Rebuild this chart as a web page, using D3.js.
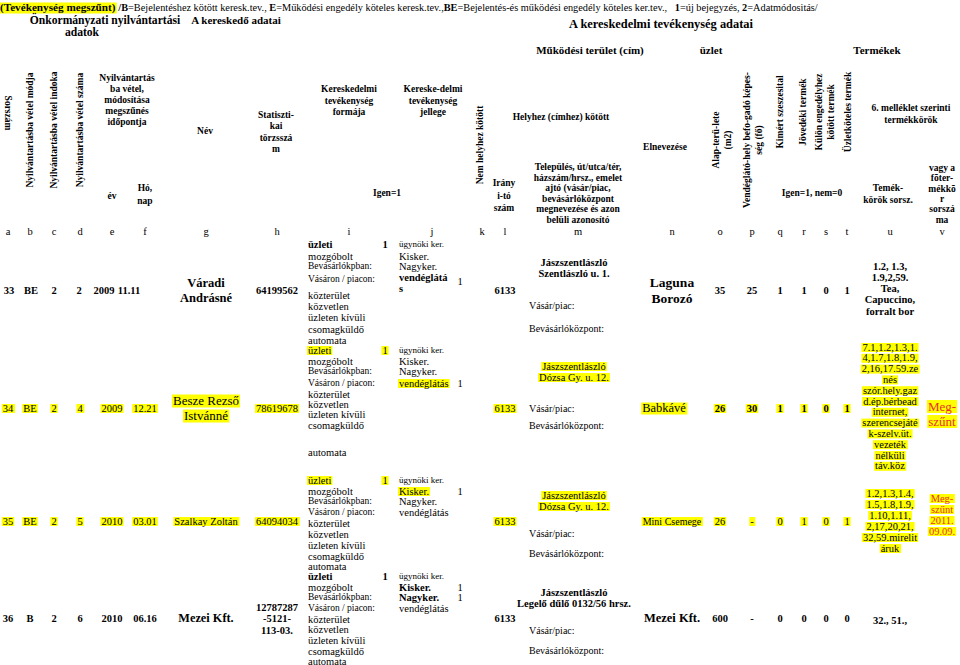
<!DOCTYPE html>
<html><head><meta charset="utf-8">
<script src="https://cdn.jsdelivr.net/npm/d3@7"></script>
<style>body{margin:0;background:#fff}svg{display:block}text{font-family:"Liberation Serif","Times New Roman",serif;white-space:pre}</style>
</head><body><svg id="c" width="960" height="665"></svg>
<script>
// ---------------- DATA ----------------
const columnLetters = ['a','b','c','d','e','f','g','h','i','j','k','l','m','n','o','p','q','r','s','t','u','v'];
const legendParts = [[' /B','b'],['=Bejelentéshez kötött keresk.tev., ','n'],['E','b'],['=Működési engedély köteles keresk.tev.,','n'],['BE','b'],['=Bejelentés-és működési engedély köteles ker.tev.,   ','n'],['1','b'],['=új bejegyzés, ','n'],['2','b'],['=Adatmódositás/','n']];
const rowIds = ['33','34','35','36'];
const regModes = ['BE','BE','BE','B'];
const regReasons = ['2','2','2','2'];
const regNumbers = ['2','4','5','6'];
const years = ['2009','2009','2010','2010'];
const monthDays = ['11.11','12.21','03.01','06.16'];
const traderNames = [['Váradi','Andrásné'],['Besze Rezső','Istvánné'],['Szalkay Zoltán'],['Mezei Kft.']];
const statNumbers = [['64199562'],['78619678'],['64094034'],['12787287','-5121-','113-03.']];
const formOptions = ['üzleti','mozgóbolt','Bevásárlókpban:','Vásáron / piacon:','közterület','közvetlen','üzleten kívüli','csomagküldő','automata'];
const formSelected = [0,0,0,0];
const natureOptions = ['ügynöki ker.','Kisker.','Nagyker.','vendéglátás'];
const natureSelected = [[3],[3],[1],[1,2]];
const zipCodes = ['6133','6133','6133','6133'];
const addresses = [['Jászszentlászló','Szentlászló u. 1.'],['Jászszentlászló','Dózsa Gy. u. 12.'],['Jászszentlászló','Dózsa Gy. u. 12.'],['Jászszentlászló','Legelő dűlő 0132/56 hrsz.']];
const shopNames = [['Laguna','Borozó'],['Babkávé'],['Mini Csemege'],['Mezei Kft.']];
const floorAreas = ['35','26','26','600'];
const capacities = ['25','30','-','-'];
const spirits = ['1','1','0','0'];
const exciseGoods = ['1','1','1','0'];
const licensedGoods = ['0','0','0','0'];
const shopOnlyGoods = ['1','1','1','0'];
const productCodes = [
 ['1.2, 1.3,','1.9,2,59.','Tea,','Capuccino,','forralt bor'],
 ['7.1,1.2,1.3,1.','4,1.7,1.8,1.9,','2,16,17.59.ze','nés','szór.hely.gaz','d.ép.bérbead','internet,','szerencsejáté','k-szelv.üt.','vezeték','nélküli','táv.köz'],
 ['1.2,1.3,1.4,','1.5,1.8,1.9,','1.10,1.11,','2,17,20,21,','32,59.mirelit','áruk'],
 ['32., 51.,']
];
const statusNotes = [[],['Meg-','szűnt'],['Meg-','szűnt','2011.','09.09.'],[]];

// ---------------- LAYOUT / STYLE ----------------
const svg = d3.select('#c');
svg.append('rect').attr('width',960).attr('height',665).attr('fill','#fff');
const colX = d3.scaleOrdinal().domain(columnLetters)
  .range([8,30,54,80,112,145,206,277,349,432,482,505,578,672,720,752,780,804,826,847,890,942]);
const rowY = d3.scaleOrdinal().domain(rowIds).range([290,408,521,618]);
const listTop = d3.scaleOrdinal().domain(rowIds).range([244,350,480,576]);
const listOffsets = [[0,12,22,35,51,62,73,85,96],[0,11,21,33,44,54,64,75,102],[0,11,21,32,43,54,65,76,86],[0,11,21,32,43,53,64,75,85]];
const firstColsShift = [[1,1,0,-1,-8,-16],[0,0,0,0,0,0],[0,0,0,0,0,0],[0,0,0,0,0,0]];
const rowStyle = ['bold','hl','hl','bold'];
const HL = '#ffff00', RED = '#e8322a';

function T(g, x, y, s, o = {}) {
  const t = g.append('text').attr('x', x).attr('y', y).text(s)
    .attr('font-size', o.size || 10.5)
    .attr('font-weight', o.bold ? 'bold' : 'normal')
    .attr('text-anchor', o.anchor || 'middle')
    .attr('dominant-baseline', 'central')
    .attr('fill', o.fill || '#000');
  if (o.rot) t.attr('transform', `rotate(${o.rot},${x},${y})`);
  if (o.hl) {
    const b = t.node().getBBox();
    g.insert('rect', () => t.node()).attr('x', b.x - 1).attr('y', b.y + 1.5)
      .attr('width', b.width + 2).attr('height', b.height - 2).attr('fill', HL);
  }
  return t;
}
function L(g, x, y0, lh, arr, o = {}) { arr.forEach((s, i) => T(g, x, y0 + i * lh, s, o)); }

// ---------------- TOP LEGEND ----------------
const legendG = svg.append('g');
const t0 = T(legendG, 0, 7, '(Tevékenység megszűnt)', {anchor:'start', bold:true, size:11.2, hl:true});
const w0 = t0.node().getBBox().width;
const leg = legendG.append('text').attr('x', w0).attr('y', 7).attr('dominant-baseline','central').attr('font-size', 10.3);
leg.selectAll('tspan').data(legendParts).join('tspan').text(d => d[0]).attr('font-weight', d => d[1] === 'b' ? 'bold' : 'normal');

// ---------------- HEADERS ----------------
const h = svg.append('g');
const hb = {bold:true, size:9.5};
T(h, 105, 20, 'Önkormányzati nyilvántartási', {...hb, size:11.6});
T(h, 82, 32, 'adatok', {...hb, size:11.6});
T(h, 236, 20, 'A kereskedő adatai', {...hb, size:11});
T(h, 661, 24, 'A kereskedelmi tevékenység adatai', {...hb, size:12.4});
T(h, 590, 50, 'Működési terület (cím)', {...hb, size:11});
T(h, 711, 50, 'üzlet', {...hb, size:11});
T(h, 877, 50, 'Termékek', {...hb, size:11});

T(h, colX('a'), 113, 'Sorszám', {...hb, rot:90});
T(h, colX('b'), 130, 'Nyilvántartásba vétel módja', {...hb, rot:-90});
T(h, colX('c'), 130, 'Nyilvántartásba vétel indoka', {...hb, rot:-90});
T(h, colX('d'), 130, 'Nyilvántartásba vétel száma', {...hb, rot:-90});
L(h, 127, 78, 11, ['Nyilvántartás','ba vétel,','módosítása','megszűnés','időpontja'], hb);
T(h, 112, 196, 'év', hb);
L(h, 145, 188, 13, ['Hó,','nap'], hb);
T(h, 205, 131, 'Név', hb);
L(h, 276, 115, 11.3, ['Statiszti-','kai','törzsszá','m'], hb);
L(h, 349, 89, 11.5, ['Kereskedelmi','tevékenység','formája'], hb);
L(h, 433, 89, 11.5, ['Kereske-delmi','tevékenység','jellege'], hb);
T(h, 387, 193, 'Igen=1', hb);
T(h, 480, 145, 'Nem helyhez kötött', {...hb, rot:-90});
T(h, 561, 117, 'Helyhez (címhez) kötött', hb);
L(h, 504, 183, 12.5, ['Irány','i-tó','szám'], hb);
L(h, 578, 167, 10.5, ['Település, út/utca/tér,','házszám/hrsz., emelet','ajtó (vásár/piac,','bevásárlóközpont','megnevezése és azon','belüli azonosító'], hb);
T(h, 665, 147, 'Elnevezése', hb);
T(h, 716, 140, 'Alap-terü-lete', {...hb, rot:-90});
T(h, 728, 140, '(m2)', {...hb, rot:-90});
T(h, 747, 140, 'Vendéglátó-hely befo-gadó képes-', {...hb, rot:-90});
T(h, 759, 140, 'ség (fő)', {...hb, rot:-90});
T(h, 780, 112, 'Kimért szeszesital', {...hb, rot:-90});
T(h, 803, 112, 'Jövedéki termék', {...hb, rot:-90});
T(h, 819, 112, 'Külön engedélyhez', {...hb, rot:-90});
T(h, 831, 112, 'kötött termék', {...hb, rot:-90});
T(h, 848, 112, 'Üzletköteles termék', {...hb, rot:-90});
T(h, 812, 193, 'Igen=1, nem=0', hb);
L(h, 911, 108, 12, ['6. melléklet szerinti','termékkörök'], hb);
L(h, 888, 188, 12, ['Temék-','körök sorsz.'], hb);
L(h, 942, 168, 10.3, ['vagy a','fõter-','mékkõ','r','sorszá','ma'], hb);
columnLetters.forEach(c => T(h, colX(c), 231, c, {size:10.5}));

// ---------------- ROWS ----------------
const nameSizes = [12.5, 13, 10.5, 12.3];
const shopSizes = [13.5, 12.5, 10, 12.5];
const body = svg.append('g');
rowIds.forEach((id, r) => {
  const g = body.append('g');
  const y = rowY(id);
  const st = rowStyle[r];
  const em = st === 'bold' ? {bold:true} : {hl:true};
  const base = {size:10.5, ...em};
  [['a', id], ['b', regModes[r]], ['c', regReasons[r]], ['d', regNumbers[r]], ['e', years[r]], ['f', monthDays[r]]]
    .forEach(([c, v], k) => T(g, colX(c) + firstColsShift[r][k], y, v, base));
  const nl = traderNames[r];
  L(g, colX('g'), y - (nl.length - 1) * 7.5, 15, nl, {...em, size:nameSizes[r]});
  const sl = statNumbers[r];
  L(g, colX('h'), y - (sl.length - 1) * 5.5, 11.5, sl, base);
  const lt = listTop(id);
  formOptions.forEach((f, k) => {
    const sel = formSelected[r] === k;
    const small = (k === 2 || k === 3);
    T(g, 308, lt + listOffsets[r][k], f, {anchor:'start', size: small ? 9.5 : 10.5, ...(sel ? em : {})});
    if (sel) T(g, 385, lt + listOffsets[r][k], '1', {size:10.5, ...em});
  });
  natureOptions.forEach((f, k) => {
    const sel = natureSelected[r].includes(k);
    const yy = lt + listOffsets[r][k];
    const opts = {anchor:'start', size: k === 0 ? 9 : 10.5, ...(sel ? em : {})};
    if (sel && st === 'bold' && f === 'vendéglátás') {
      T(g, 399, yy - 2, 'vendéglátá', opts);
      T(g, 399, yy + 9, 's', opts);
      T(g, 460, yy + 2, '1', {size:10.5});
    } else {
      T(g, 399, yy, f, opts);
      if (sel) T(g, 460, yy, '1', {size:10.5});
    }
  });
  T(g, colX('l'), y, zipCodes[r], base);
  const ay = [262, 366, 495, 592][r];
  L(g, colX('m') - 4, ay, 11, addresses[r], base);
  T(g, 529, [305, 408, 533, 630][r], 'Vásár/piac:', {anchor:'start', size:10});
  T(g, 529, [328, 425, 553, 650][r], 'Bevásárlóközpont:', {anchor:'start', size:10});
  const sn = shopNames[r];
  L(g, colX('n') + (r === 1 ? -8 : 0), y - (sn.length - 1) * 8, 16, sn, {...em, size:shopSizes[r]});
  [['o', floorAreas], ['p', capacities], ['q', spirits], ['r', exciseGoods], ['s', licensedGoods], ['t', shopOnlyGoods]]
    .forEach(([c, arr]) => T(g, colX(c), y, arr[r], {...em, size:10.5, bold: st === 'bold' || r === 1}));
  const pc = productCodes[r];
  const pcTop = [266, 347, 493, 620][r];
  const pcStep = [11.3, 10.8, 11, 11][r];
  L(g, colX('u'), pcTop, pcStep, pc, {...em, size:10.5});
  const sn2 = statusNotes[r];
  if (sn2.length) {
    const big = sn2.length === 2;
    L(g, colX('v'), big ? 406 : 498, big ? 15 : 11, sn2, {hl:true, fill:RED, size: big ? 13 : 10.5});
  }
});
</script></body></html>
